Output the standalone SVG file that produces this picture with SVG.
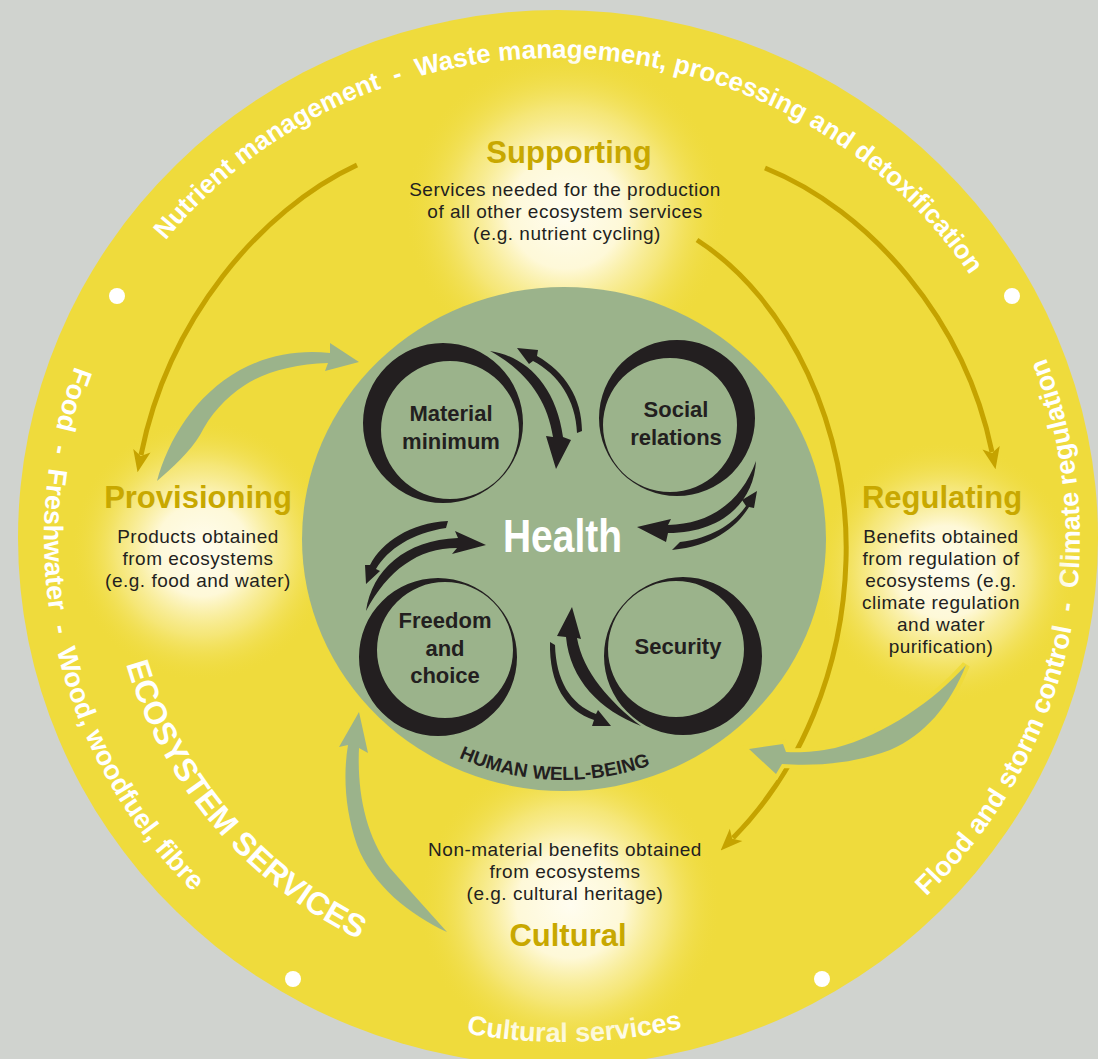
<svg xmlns="http://www.w3.org/2000/svg" width="1098" height="1059" viewBox="0 0 1098 1059">
<style>
.ring{font-family:"Liberation Sans",Arial,sans-serif;font-weight:bold;font-size:27px;fill:#ffffff}
.head{font-family:"Liberation Sans",Arial,sans-serif;font-weight:bold;font-size:31px;fill:#c8a800;text-anchor:middle}
.body{font-family:"Liberation Sans",Arial,sans-serif;font-size:19px;letter-spacing:0.5px;fill:#231f20;text-anchor:middle}
.lbl{font-family:"Liberation Sans",Arial,sans-serif;font-weight:bold;font-size:22px;fill:#231f20;text-anchor:middle}
.gold{fill:none;stroke:#c5a300;stroke-width:5;stroke-linecap:butt}
.sage{fill:#9bb38b}
.blk{fill:#231f20}
.dot{fill:#ffffff}
</style>
<defs>
<radialGradient id="glow">
<stop offset="0" stop-color="#fffdf0" stop-opacity="1"/>
<stop offset="0.35" stop-color="#fffae0" stop-opacity="0.95"/>
<stop offset="0.65" stop-color="#f9ee9e" stop-opacity="0.6"/>
<stop offset="1" stop-color="#efdb3c" stop-opacity="0"/>
</radialGradient>
<marker id="goldHead" viewBox="0 0 20 20" refX="4" refY="10" markerWidth="22" markerHeight="22" orient="auto" markerUnits="userSpaceOnUse">
<path d="M0,2 L20,10 L0,18 L5,10 Z" fill="#c5a300"/>
</marker>
<path id="topArc" d="M 59 538 A 496 480 0 0 1 1051 538"/>
<path id="sideArc" d="M 562 34 A 518 504 0 1 0 562 1042 A 518 504 0 1 0 562 34"/>
<path id="ecoArc" d="M 564 99 A 455 444 0 1 0 564 987 A 455 444 0 1 0 564 99"/>
<path id="hwbArc" d="M 564 298 A 250 241 0 1 0 564 780 A 250 241 0 1 0 564 298"/>
</defs>

<rect x="0" y="0" width="1098" height="1059" fill="#d0d3cf"/>

<g id="ecosystem-services">
<ellipse cx="558" cy="538" rx="540" ry="528" fill="#efdb3c"/>
<circle class="dot" cx="117" cy="296" r="8"/>
<circle class="dot" cx="1012" cy="296" r="8"/>
<circle class="dot" cx="293" cy="979" r="8"/>
<circle class="dot" cx="822" cy="979" r="8"/>
<text class="ring" style="font-size:26px" text-anchor="middle" xml:space="preserve"><textPath href="#topArc" startOffset="788">Nutrient management  -  Waste management, processing and detoxification</textPath></text>
<text class="ring" text-anchor="middle" xml:space="preserve"><textPath href="#sideArc" startOffset="912">Food  -  Freshwater  -  Wood, woodfuel, fibre</textPath></text>
<text class="ring" text-anchor="middle" xml:space="preserve"><textPath href="#sideArc" startOffset="1618">Cultural services</textPath></text>
<text class="ring" text-anchor="middle" xml:space="preserve"><textPath href="#sideArc" startOffset="2300">Flood and storm control  -  Climate regulation</textPath></text>
<text class="ring" style="font-size:32px" text-anchor="middle"><textPath href="#ecoArc" startOffset="1014">ECOSYSTEM SERVICES</textPath></text>
</g>

<g id="glows">
<circle cx="566" cy="212" r="162" fill="url(#glow)"/>
<circle cx="202" cy="550" r="132" fill="url(#glow)"/>
<circle cx="945" cy="572" r="132" fill="url(#glow)"/>
<circle cx="570" cy="905" r="152" fill="url(#glow)"/>
</g>

<g id="human-well-being">
<ellipse cx="564" cy="539" rx="262" ry="252" fill="#9bb38b"/>
<text class="ring" style="font-size:19px;fill:#231f20" text-anchor="middle"><textPath href="#hwbArc" startOffset="761">HUMAN WELL-BEING</textPath></text>
</g>

<g id="connectors">
<path class="gold" d="M 357 165 C 260 210, 168 320, 141 455" marker-end="url(#goldHead)"/>
<path class="gold" d="M 765 168 C 870 210, 965 320, 992 452" marker-end="url(#goldHead)"/>
<path class="gold" d="M 697 240 C 790 300, 850 430, 846 560 C 843 670, 800 770, 733 838" marker-end="url(#goldHead)"/>
<path class="sage" d="M 157 481 C 168 440, 195 395, 240 370 C 270 354, 300 350, 330 353 L 330 343 L 359 362 L 325 371 L 328 363 C 295 364, 265 372, 245 385 C 225 398, 210 415, 200 435 C 190 452, 172 468, 157 481 Z"/>
<path class="sage" d="M 447 932 C 410 915, 372 885, 357 845 C 345 810, 343 775, 348 745 L 339 747 L 359 712 L 368 753 L 359 748 C 357 790, 365 835, 390 868 L 412 893 Z"/>
<path class="sage" stroke="#efdb3c" stroke-width="8" paint-order="stroke" d="M 966 665 C 935 700, 885 735, 835 748 C 815 752, 800 753, 786 752 L 783 744 L 749 749 L 776 774 L 782 764 C 810 766, 850 765, 890 750 C 925 735, 950 705, 966 665 Z"/>
<path class="blk" d="M 490 351 C 525 356, 556 385, 563 437 L 571 440 L 556 469 L 546 436 L 553 437 C 547 398, 525 370, 490 351 Z"/>
<path class="blk" d="M 577 433 L 582 431 C 582 398, 565 372, 537 356 L 538 350 L 517 348 L 529 364 L 533 361 C 558 374, 576 400, 577 433 Z"/>
<path class="blk" d="M 756 461 C 754 502, 722 533, 668 533 L 666 542 L 637 527 L 671 519 L 668 525 C 712 524, 742 500, 756 461 Z"/>
<path class="blk" d="M 672 550 L 680 542 C 712 538, 733 524, 746 506 L 742 500 L 757 491 L 754 508 L 749 507 C 736 528, 712 546, 672 550 Z"/>
<path class="blk" d="M 366 611 C 372 570, 405 540, 458 538 L 455 531 L 486 545 L 452 554 L 457 548 C 418 548, 388 570, 366 611 Z"/>
<path class="blk" d="M 448 521 C 410 523, 382 542, 370 565 L 365 565 L 366 584 L 380 571 L 376 569 C 388 549, 412 533, 446 528 Z"/>
<path class="blk" d="M 641 726 C 600 710, 570 680, 566 637 L 557 636 L 572 607 L 581 639 L 577 638 C 583 672, 610 702, 641 726 Z"/>
<path class="blk" d="M 550 642 L 555 645 C 556 680, 570 704, 596 714 L 598 710 L 611 726 L 592 726 L 594 720 C 566 711, 549 684, 550 642 Z"/>
</g>

<g id="health">
<text x="503" y="552" style="font-family:'Liberation Sans',Arial,sans-serif;font-weight:bold;font-size:46px;fill:#ffffff" textLength="119" lengthAdjust="spacingAndGlyphs">Health</text>
</g>

<g id="material-minimum">
<path class="blk" fill-rule="evenodd" d="M 363 423 a 80 80 0 1 0 160 0 a 80 80 0 1 0 -160 0 Z M 381 430 a 69 69 0 1 0 138 0 a 69 69 0 1 0 -138 0 Z"/>
<text class="lbl" x="451" y="421">Material</text>
<text class="lbl" x="451" y="449">minimum</text>
</g>

<g id="social-relations">
<path class="blk" fill-rule="evenodd" d="M 599 418 a 78 78 0 1 0 156 0 a 78 78 0 1 0 -156 0 Z M 603 425 a 67 67 0 1 0 134 0 a 67 67 0 1 0 -134 0 Z"/>
<text class="lbl" x="676" y="417">Social</text>
<text class="lbl" x="676" y="445">relations</text>
</g>

<g id="freedom-and-choice">
<path class="blk" fill-rule="evenodd" d="M 359 657 a 79 79 0 1 0 158 0 a 79 79 0 1 0 -158 0 Z M 377 650 a 68 68 0 1 0 136 0 a 68 68 0 1 0 -136 0 Z"/>
<text class="lbl" x="445" y="628">Freedom</text>
<text class="lbl" x="445" y="656">and</text>
<text class="lbl" x="445" y="683">choice</text>
</g>

<g id="security">
<path class="blk" fill-rule="evenodd" d="M 604 656 a 79 79 0 1 0 158 0 a 79 79 0 1 0 -158 0 Z M 608 649 a 68 68 0 1 0 136 0 a 68 68 0 1 0 -136 0 Z"/>
<text class="lbl" x="678" y="654">Security</text>
</g>

<g id="supporting">
<text class="head" x="569" y="163">Supporting</text>
<text class="body" x="565" y="196">Services needed for the production</text>
<text class="body" x="565" y="218">of all other ecosystem services</text>
<text class="body" x="567" y="240">(e.g. nutrient cycling)</text>
</g>

<g id="provisioning">
<text class="head" x="198" y="508">Provisioning</text>
<text class="body" x="198" y="543">Products obtained</text>
<text class="body" x="198" y="565">from ecosystems</text>
<text class="body" x="198" y="587">(e.g. food and water)</text>
</g>

<g id="regulating">
<text class="head" x="942" y="508">Regulating</text>
<text class="body" x="941" y="543">Benefits obtained</text>
<text class="body" x="941" y="565">from regulation of</text>
<text class="body" x="941" y="587">ecosystems (e.g.</text>
<text class="body" x="941" y="609">climate regulation</text>
<text class="body" x="941" y="631">and water</text>
<text class="body" x="941" y="653">purification)</text>
</g>

<g id="cultural">
<text class="body" x="565" y="856">Non-material benefits obtained</text>
<text class="body" x="565" y="878">from ecosystems</text>
<text class="body" x="565" y="900">(e.g. cultural heritage)</text>
<text class="head" x="568" y="946">Cultural</text>
</g>
</svg>
